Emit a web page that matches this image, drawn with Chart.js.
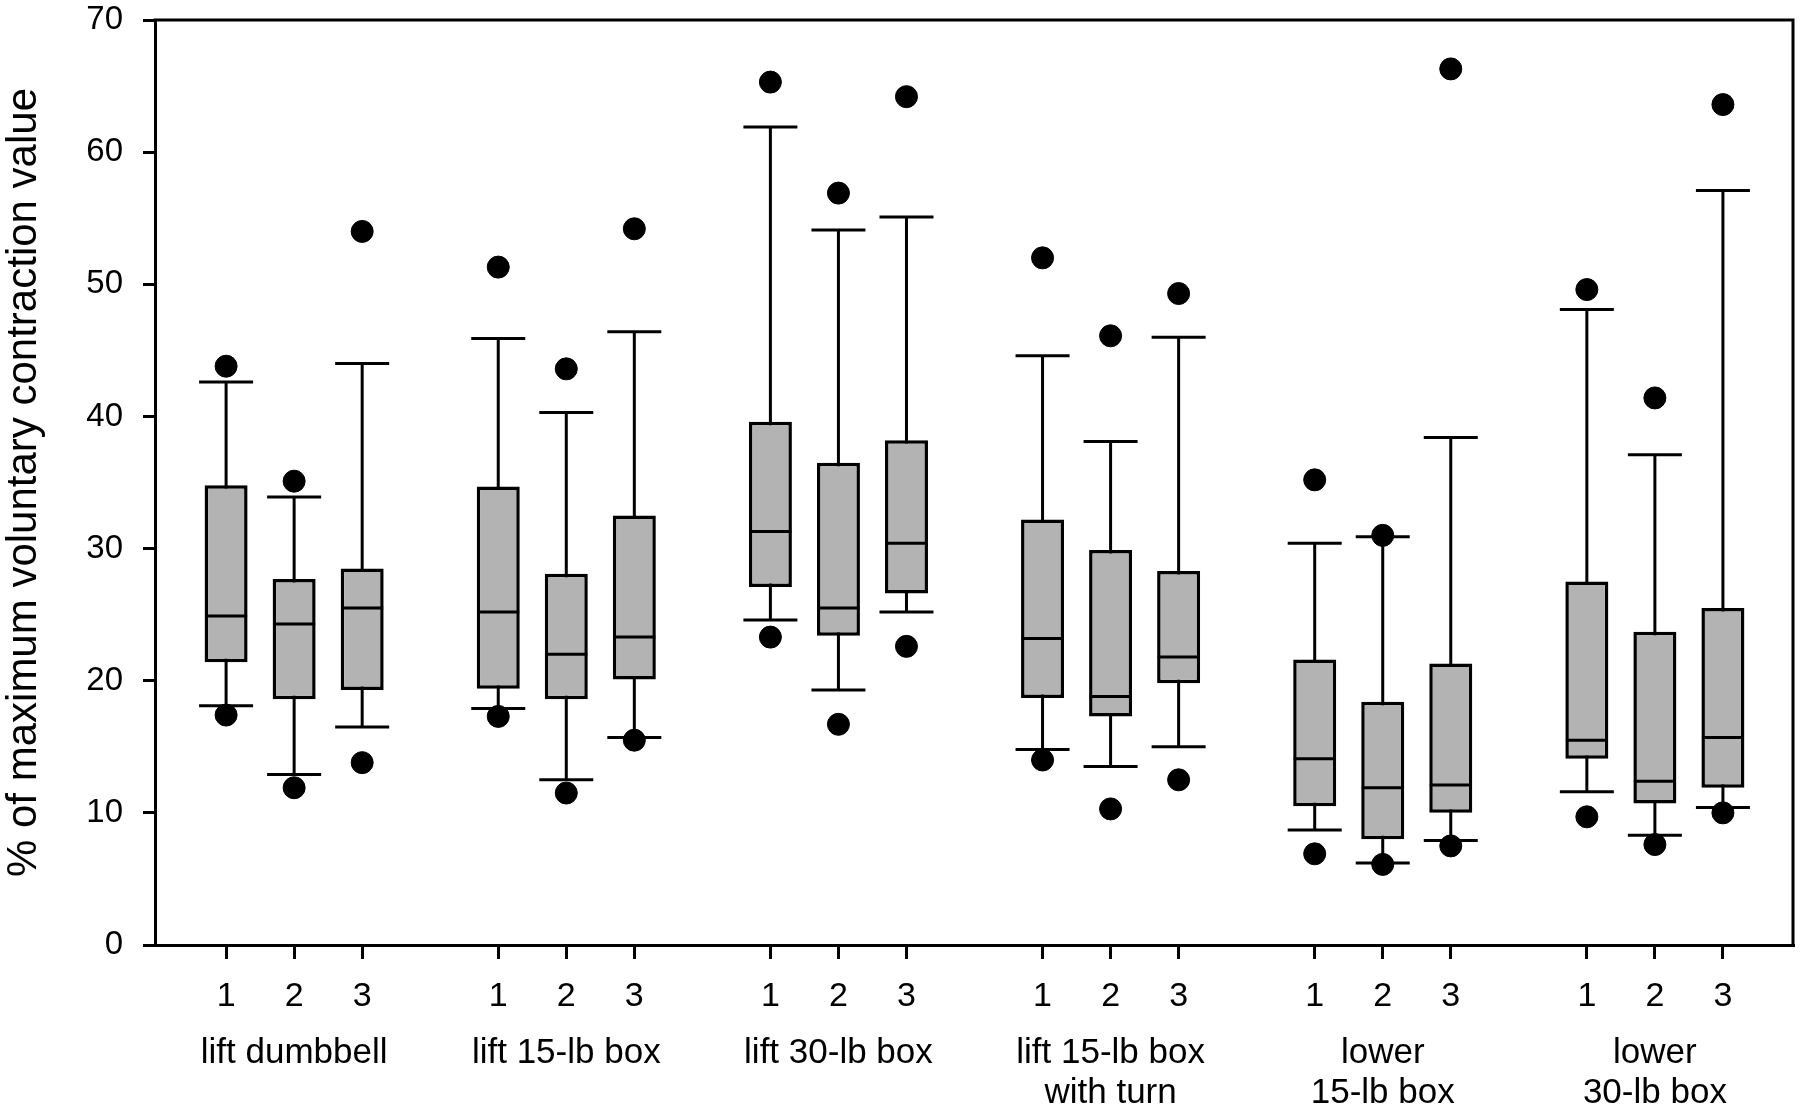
<!DOCTYPE html>
<html>
<head>
<meta charset="utf-8">
<script src="https://cdn.jsdelivr.net/npm/chart.js@4/dist/chart.umd.min.js"></script>
<style>
  html, body { margin: 0; padding: 0; background: #fff; }
  #wrap { width: 1800px; height: 1113px; }
</style>
</head>
<body>
<div id="wrap"><canvas id="c" width="1800" height="1113"></canvas></div>
<script>
// ---- data ----
const groupLabels = ["lift dumbbell", "lift 15-lb box", "lift 30-lb box",
  ["lift 15-lb box", "with turn"], ["lower", "15-lb box"], ["lower", "30-lb box"]];
const subLabels = ["1", "2", "3"];
const yTickValues = [0, 10, 20, 30, 40, 50, 60, 70];
const yTitle = "% of maximum voluntary contraction value";

const whiskerLow  = [18.1, 12.9, 16.5, 17.9, 12.5, 15.7, 24.6, 19.3, 25.2, 14.8, 13.5, 15.0, 8.7, 6.2, 7.9, 11.6, 8.3, 10.4];
const q1          = [21.4, 18.6, 19.3, 19.4, 18.6, 20.1, 27.1, 23.4, 26.6, 18.7, 17.3, 19.8, 10.5, 8.0, 10.0, 14.1, 10.7, 11.9];
const median      = [24.9, 24.3, 25.5, 25.2, 22.0, 23.3, 31.3, 25.5, 30.4, 23.2, 18.8, 21.8, 14.1, 11.9, 12.1, 15.5, 12.4, 15.7];
const q3          = [34.8, 27.7, 28.5, 34.7, 28.1, 32.5, 39.6, 36.5, 38.2, 32.2, 29.9, 28.3, 21.6, 18.4, 21.3, 27.5, 23.7, 25.5];
const whiskerHigh = [42.6, 33.9, 44.0, 45.9, 40.3, 46.4, 61.9, 54.1, 55.1, 44.6, 38.1, 46.0, 30.4, 30.9, 38.4, 48.1, 37.1, 57.1];
const outlierLow  = [17.4, 11.9, 13.8, 17.3, 11.5, 15.5, 23.3, 16.7, 22.6, 14.0, 10.3, 12.5, 6.9, 6.1, 7.5, 9.7, 7.6, 10.0];
const outlierHigh = [43.8, 35.1, 54.0, 51.3, 43.6, 54.2, 65.3, 56.9, 64.2, 52.0, 46.1, 49.3, 35.2, 31.0, 66.3, 49.6, 41.4, 63.6];

// ---- positions on the linear x scale: 3 boxes per group, one empty slot between groups ----
const positions = [];
const tickLabels = [];
groupLabels.forEach((g, gi) => subLabels.forEach((s, si) => { positions.push(gi * 4 + si + 1); tickLabels.push(s); }));
const groupCenters = groupLabels.map((g, gi) => gi * 4 + 2);

const FONT = "'Liberation Sans', Arial, Helvetica, sans-serif";
Chart.defaults.font.family = FONT;
Chart.defaults.color = '#000';

const BOX_FILL = '#b3b3b3';

const frame = {
  id: 'frame',
  afterDraw(chart) {
    const { ctx, chartArea: a } = chart;
    ctx.save();
    ctx.strokeStyle = '#000';
    ctx.lineWidth = 3;
    ctx.beginPath();
    ctx.moveTo(a.left - 1.5, a.top);
    ctx.lineTo(a.right, a.top);
    ctx.lineTo(a.right, a.bottom + 1.5);
    ctx.stroke();
    ctx.restore();
  }
};

function noPad(s) { s.paddingLeft = 0; s.paddingRight = 0; s.paddingTop = 0; s.paddingBottom = 0; }

new Chart(document.getElementById('c'), {
  type: 'bar',
  data: {
    datasets: [
      {
        type: 'scatter', label: 'outliers', order: 0,
        data: positions.map((x, i) => ({ x, y: outlierLow[i] })).concat(positions.map((x, i) => ({ x, y: outlierHigh[i] }))),
        pointStyle: 'circle', pointRadius: 11, pointBackgroundColor: '#000', pointBorderColor: '#000', pointBorderWidth: 1
      },
      {
        type: 'scatter', label: 'median', order: 1,
        data: positions.map((x, i) => ({ x, y: median[i] })),
        pointStyle: 'line', pointRadius: 21, pointBorderColor: '#000', pointBorderWidth: 3
      },
      {
        type: 'scatter', label: 'caps', order: 1,
        data: positions.map((x, i) => ({ x, y: whiskerLow[i] })).concat(positions.map((x, i) => ({ x, y: whiskerHigh[i] }))),
        pointStyle: 'line', pointRadius: 27, pointBorderColor: '#000', pointBorderWidth: 3
      },
      {
        type: 'bar', label: 'box', order: 2, grouped: false,
        data: positions.map((x, i) => ({ x, y: [q1[i], q3[i]] })),
        backgroundColor: BOX_FILL, borderColor: '#000', borderWidth: 3.5, borderSkipped: false,
        barThickness: 43, inflateAmount: 0
      },
      {
        type: 'bar', label: 'whisker', order: 3, grouped: false,
        data: positions.map((x, i) => ({ x, y: [whiskerLow[i], whiskerHigh[i]] })),
        backgroundColor: '#000', borderWidth: 0, barThickness: 3, inflateAmount: 0
      }
    ]
  },
  options: {
    responsive: false,
    animation: false,
    events: [],
    layout: { autoPadding: false, padding: { left: 0, top: 0, bottom: 0, right: 7 } },
    plugins: { legend: { display: false }, tooltip: { enabled: false } },
    scales: {
      x: {
        type: 'linear', position: 'bottom', weight: 0, offset: false,
        min: -0.045, max: 24.03,
        afterBuildTicks: s => { s.ticks = positions.map(v => ({ value: v })); },
        afterFit: s => { s.height = 70; noPad(s); },
        ticks: {
          autoSkip: false, maxRotation: 0, padding: 17,
          font: { size: 34 }, color: '#000',
          callback: v => tickLabels[positions.indexOf(v)]
        },
        grid: { offset: false, drawOnChartArea: false, drawTicks: true, tickLength: 14, lineWidth: 3, color: '#000' },
        border: { display: true, color: '#000', width: 3 }
      },
      groups: {
        type: 'linear', position: 'bottom', axis: 'x', weight: 1, offset: false,
        min: -0.045, max: 24.03,
        afterBuildTicks: s => { s.ticks = groupCenters.map(v => ({ value: v })); },
        afterFit: s => { s.height = 98; noPad(s); },
        ticks: {
          autoSkip: false, maxRotation: 0, padding: 18,
          font: { size: 35, lineHeight: 40 / 35 }, color: '#000',
          callback: v => groupLabels[groupCenters.indexOf(v)]
        },
        grid: { offset: false, display: false, drawTicks: false, tickLength: 0 },
        border: { display: false }
      },
      y: {
        type: 'linear', position: 'left',
        min: 0, max: 70,
        afterBuildTicks: s => { s.ticks = yTickValues.map(v => ({ value: v })); },
        afterFit: s => { s.width = 155; noPad(s); s.paddingTop = 20; },
        ticks: { padding: 20, font: { size: 33 }, color: '#000' },
        grid: { drawOnChartArea: false, drawTicks: true, tickLength: 12, lineWidth: 3, color: '#000' },
        border: { display: true, color: '#000', width: 3 },
        title: {
          display: true, text: yTitle, color: '#000',
          font: { size: 42, lineHeight: 1.0 }, padding: { top: 3, bottom: 0 }
        }
      }
    }
  },
  plugins: [frame]
});
</script>
</body>
</html>
